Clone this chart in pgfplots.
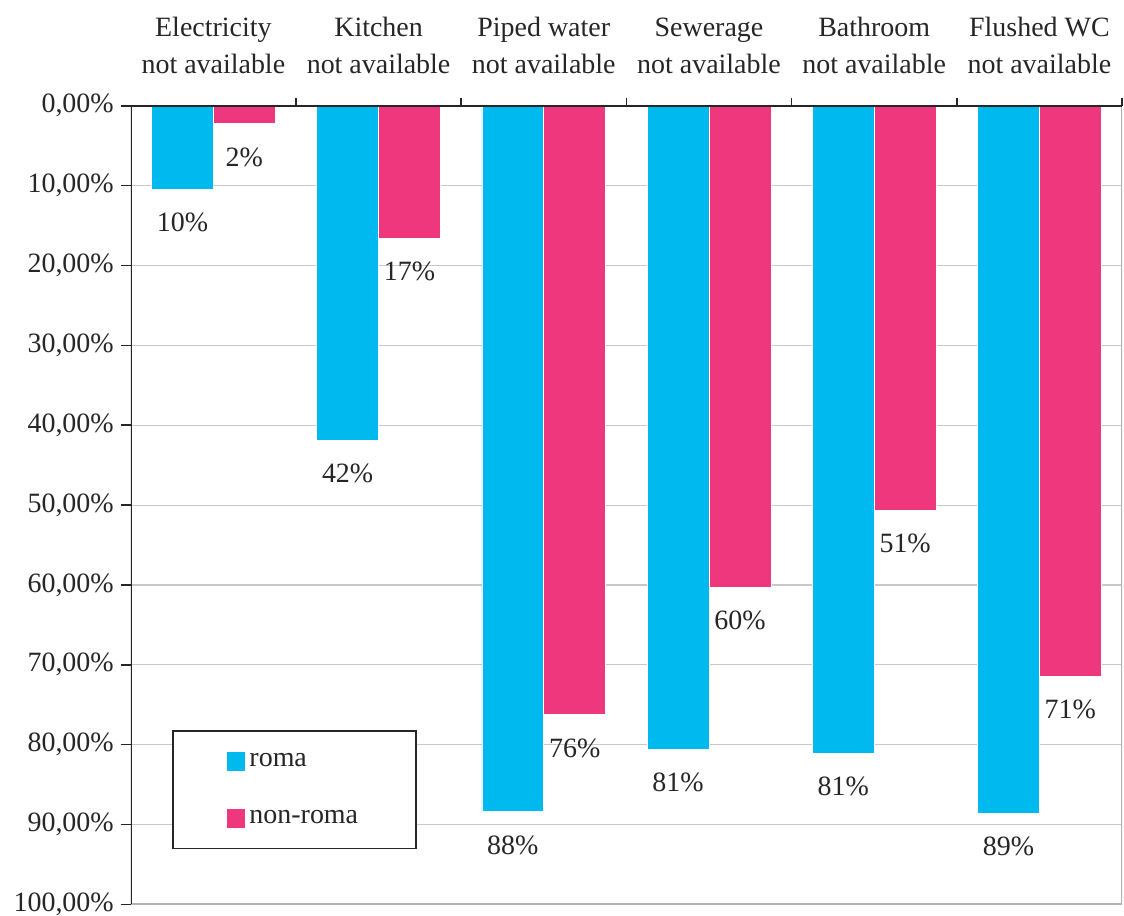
\documentclass[border=0pt]{standalone}
\usepackage{pgfplots}
\pgfplotsset{compat=1.18}
\usepackage{fontspec}
\setmainfont{Liberation Serif}
\definecolor{roma}{HTML}{00B9EF}
\definecolor{nonroma}{HTML}{EE377C}
\definecolor{gridc}{HTML}{C8C8C8}
\definecolor{txt}{HTML}{262626}
\begin{document}
\begin{tikzpicture}
\begin{axis}[
  scale only axis, width=496.5pt, height=400pt,
  xmin=-0.5, xmax=5.5, ymin=0, ymax=100, y dir=reverse,
  axis line style={draw=none},
  /pgf/number format/assume math mode=true,
  ybar=0pt, bar width=31pt,
  tick align=outside,
  xtick={0,1,2,3,4,5},
  xticklabels={{Electricity\\not available},{Kitchen\\not available},{Piped water\\not available},{Sewerage\\not available},{Bathroom\\not available},{Flushed WC\\not available}},
  xtick pos=right, xticklabel pos=right,
  major x tick style={draw=none},
  minor xtick={0.5,1.5,2.5,3.5,4.5,5.5},
  minor x tick style={draw=txt, line width=0.8pt},
  minor tick length=4pt,
  ytick={0,10,...,100},
  yticklabels={{0,00\%},{10,00\%},{20,00\%},{30,00\%},{40,00\%},{50,00\%},{60,00\%},{70,00\%},{80,00\%},{90,00\%},{100,00\%}},
  ytick pos=left,
  major tick length=5pt,
  y tick style={draw=txt, line width=0.8pt},
  ymajorgrids, grid style={gridc, line width=0.6pt},
  tick label style={font=\fontsize{14}{17}\selectfont, text=txt},
  xticklabel style={align=center, font=\fontsize{14}{18.5}\selectfont, yshift=7.5pt},
  nodes near coords={\pgfmathprintnumber[fixed,precision=0]{\pgfplotspointmeta}\%},
  every node near coord/.append style={anchor=north, yshift=-8.5pt, font=\fontsize{14}{17}\selectfont, text=txt},
  legend image code/.code={\fill[#1,draw=none] (0pt,-4.75pt) rectangle (9.5pt,4.75pt);},
  legend style={at={(axis description cs:0.0413,0.069)}, anchor=south west,
    draw=txt, line width=0.9pt, fill=white, inner xsep=27pt, inner ysep=9pt,
    row sep=16.5pt, font=\fontsize{14}{17}\selectfont, text=txt},
  legend cell align=left,
]
\addplot[fill=roma, draw=white, line width=0.3pt] coordinates {(0,10.4) (1,41.9) (2,88.4) (3,80.6) (4,81.1) (5,88.6)};
\addplot[fill=nonroma, draw=white, line width=0.3pt] coordinates {(0,2.25) (1,16.6) (2,76.25) (3,60.25) (4,50.6) (5,71.4)};
\legend{roma,non-roma}
\draw[gray!60, line width=1.5pt] (axis cs:-0.5,100) -- (axis cs:5.5,100) -- (axis cs:5.5,0);
\draw[txt, line width=1pt] (axis cs:-0.5,100) -- (axis cs:-0.5,0) -- (axis cs:5.5,0);
\coordinate (tl) at (axis cs:-0.5,0);
\coordinate (br) at (axis cs:5.5,100);
\end{axis}
\pgfresetboundingbox
\path[use as bounding box] ([xshift=-65.5pt,yshift=53pt]tl) rectangle ([xshift=1pt,yshift=-5.5pt]br);
\end{tikzpicture}
\end{document}
